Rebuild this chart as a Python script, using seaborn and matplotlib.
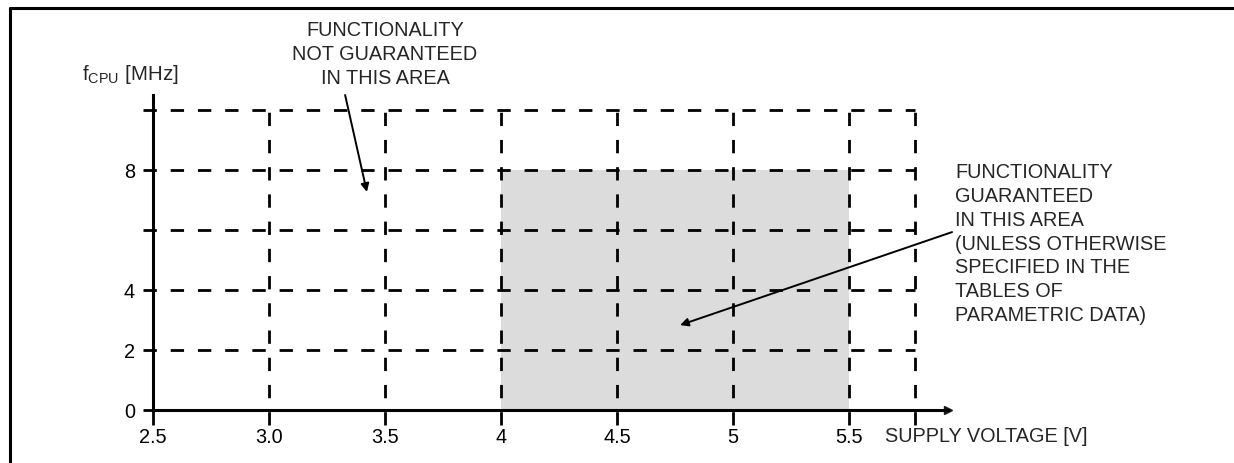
import matplotlib
matplotlib.use("Agg")
import matplotlib.pyplot as plt
from matplotlib.lines import Line2D
import seaborn as sns
import numpy as np

# ---- data ----
voltage_ticks = [2.5, 3.0, 3.5, 4.0, 4.5, 5.0, 5.5]
voltage_labels = ["2.5", "3.0", "3.5", "4", "4.5", "5", "5.5"]
freq_ticks = [0, 2, 4, 8]
freq_labels = ["0", "2", "4", "8"]
grid_voltages = [3.0, 3.5, 4.0, 4.5, 5.0, 5.5, 5.785]
grid_freqs = [2, 4, 6, 8, 10]
region_voltage = [4.0, 5.5]
region_fmax = [8]

sns.set_theme(style="white")
plt.rcParams["font.family"] = ["Liberation Sans", "DejaVu Sans"]
plt.rcParams["mathtext.fontset"] = "custom"
plt.rcParams["mathtext.rm"] = "Liberation Sans"
plt.rcParams["mathtext.it"] = "Liberation Sans"

FS = 14.3
W, H = 1234, 463
fig = plt.figure(figsize=(W / 100, H / 100), dpi=100)
x0, y0 = 153, 410          # pixel of origin
xend, ytop = 948, 95       # pixel of arrow tips
ax = fig.add_axes([x0 / W, 1 - y0 / H, (xend - x0) / W, (y0 - ytop) / H])
xmax = 2.5 + (xend - x0) / 232
ymax = (y0 - ytop) / 30.0

# guaranteed region as a seaborn histogram bar
sns.histplot(x=[np.mean(region_voltage)], weights=region_fmax, bins=region_voltage,
             color="#dcdcdc", alpha=1, linewidth=0, edgecolor="none", ax=ax, zorder=1)

dash = (0, (4.8, 5.0))
lw_grid = 2.0
xl_left = 2.5 - 10 / 232
ax.hlines(grid_freqs, xl_left, grid_voltages[-1], colors="black", linestyles=dash,
          linewidth=lw_grid, clip_on=False, zorder=2)
ax.hlines([0], xl_left, 2.5, colors="black", linewidth=lw_grid, clip_on=False, zorder=2)
ax.vlines(grid_voltages, -0.5, 10, colors="black", linestyles=dash,
          linewidth=lw_grid, clip_on=False, zorder=2)
ax.vlines([2.5], -0.5, 0, colors="black", linewidth=lw_grid, clip_on=False, zorder=2)

ax.set_xlim(2.5, xmax)
ax.set_ylim(0, ymax)
for s in ["top", "right"]:
    ax.spines[s].set_visible(False)
for s in ["left", "bottom"]:
    ax.spines[s].set_color("black")
    ax.spines[s].set_linewidth(2.2)
    ax.spines[s].set_zorder(3)

ax.set_xticks(voltage_ticks, voltage_labels)
ax.set_yticks(freq_ticks, freq_labels)
ax.tick_params(axis="both", length=0, labelsize=FS, colors="black")
ax.tick_params(axis="x", pad=13)
ax.tick_params(axis="y", pad=13)
ax.set_xlabel("")
ax.set_ylabel("")

# axis arrowheads
ax.plot(1, 0, ">k", ms=6, transform=ax.get_yaxis_transform(), clip_on=False)
ax.plot(0, 1, "^k", ms=6, transform=ax.get_xaxis_transform(), clip_on=False)

ax.text(5.655, -0.87, "SUPPLY VOLTAGE [V]", fontsize=FS, ha="left", va="center")
ax.text(2.194, 11.0, r"f$_{\mathrm{CPU}}$ [MHz]", fontsize=FS + 0.5, ha="left", va="baseline")

ax.text(3.5, 12.95, "FUNCTIONALITY\nNOT GUARANTEED\nIN THIS AREA", fontsize=FS,
        ha="center", va="top", linespacing=1.31, clip_on=False)
ax.annotate("", xy=(3.422, 7.27), xytext=(3.328, 10.5),
            arrowprops=dict(arrowstyle="-|>", color="black", lw=1.4,
                            mutation_scale=12, shrinkA=0, shrinkB=0),
            annotation_clip=False)

ax.text(5.957, 8.23,
        "FUNCTIONALITY\nGUARANTEED\nIN THIS AREA\n(UNLESS OTHERWISE\nSPECIFIED IN THE\nTABLES OF\nPARAMETRIC DATA)",
        fontsize=FS, ha="left", va="top", linespacing=1.32, clip_on=False)
ax.annotate("", xy=(4.772, 2.83), xytext=(5.944, 5.93),
            arrowprops=dict(arrowstyle="-|>", color="black", lw=1.4,
                            mutation_scale=12, shrinkA=0, shrinkB=0),
            annotation_clip=False)

# frame lines of the figure box
fig.add_artist(Line2D([10 / W, 1], [1 - 8 / H, 1 - 8 / H], color="black", lw=2.2,
                      transform=fig.transFigure))
fig.add_artist(Line2D([10 / W, 10 / W], [0, 1 - 8 / H], color="black", lw=2.2,
                      transform=fig.transFigure))

fig.savefig("out.png", dpi=100)
